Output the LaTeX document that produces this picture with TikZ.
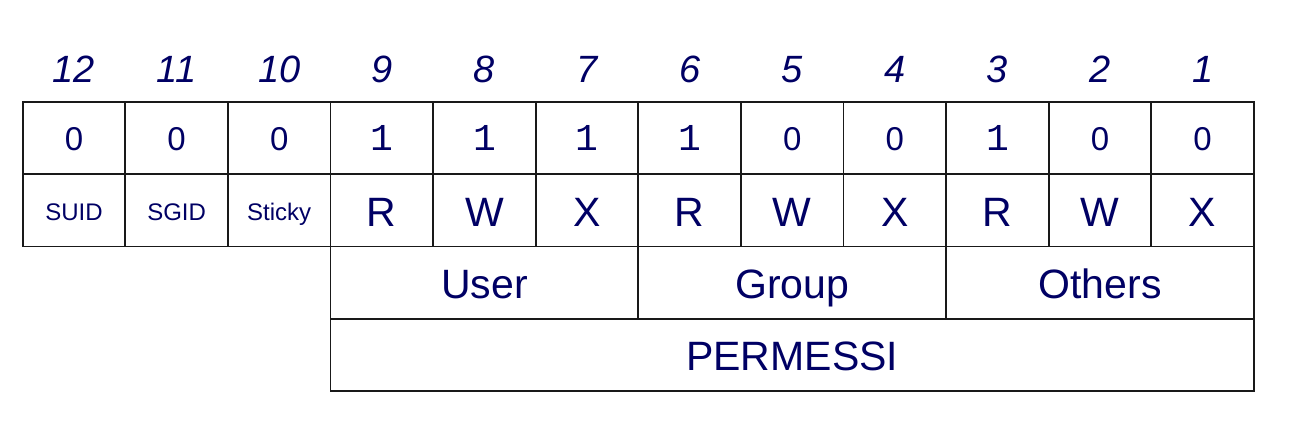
\documentclass[tikz,border=0pt]{standalone}
\usepackage{fontspec}
\setmainfont{Liberation Sans}
\newfontfamily\monofont{Liberation Mono}
\begin{document}
\begin{tikzpicture}[x=1pt,y=-1pt,
  line width=1.9pt,
  gridline/.style={draw=black!90},
  txt/.style={text=navy,inner sep=0pt,anchor=base},
  topnum/.style={txt,font=\fontsize{38}{40}\selectfont\itshape},
  bitval/.style={txt,font=\fontsize{33}{36}\selectfont},
  bitone/.style={txt,font=\fontsize{38}{40}\selectfont\monofont},
  smalllbl/.style={txt,font=\fontsize{24}{26}\selectfont},
  biglbl/.style={txt,font=\fontsize{41}{44}\selectfont}]
\definecolor{navy}{RGB}{0,0,100}
\useasboundingbox (0,0) rectangle (1296,439);
\def\L{22.7}\def\W{102.6}
\pgfmathsetmacro{\R}{\L+12*\W}
\pgfmathsetmacro{\Ux}{\L+3*\W}
\pgfmathsetmacro{\Gx}{\L+6*\W}
\pgfmathsetmacro{\Ox}{\L+9*\W}
\coordinate (tl) at (\L,102);
\coordinate (br) at (\R,246.5);
\draw[gridline] (tl) rectangle (br);
\draw[gridline] (\L,174.3) -- (\R,174.3);
\foreach \i in {1,...,11}{
  \pgfmathsetmacro{\xx}{\L+\i*\W}
  \draw[gridline] (\xx,102) -- (\xx,246.5);
}
\coordinate (ua) at (\Ux,246.5);
\coordinate (ub) at (\R,391.2);
\draw[gridline] (ua) rectangle (ub);
\draw[gridline] (\Ux,318.9) -- (\R,318.9);
\draw[gridline] (\Gx,246.5) -- (\Gx,318.9);
\draw[gridline] (\Ox,246.5) -- (\Ox,318.9);
\foreach \n/\v/\lab/\sz [count=\i from 0] in {12/0/SUID/s,11/0/SGID/s,10/0/Sticky/s,9/1/R/b,8/1/W/b,7/1/X/b,6/1/R/b,5/0/W/b,4/0/X/b,3/1/R/b,2/0/W/b,1/0/X/b}{
  \pgfmathsetmacro{\cx}{\L+(\i+0.5)*\W}
  \node[topnum] (n\n) at (\cx,82) {\n};
  \if\v 1
    \node[bitone] (v\n) at (\cx,150.5) {1};
  \else
    \node[bitval] (v\n) at (\cx,150.5) {0};
  \fi
  \if\sz s
    \node[smalllbl] (l\n) at (\cx,220) {\lab};
  \else
    \node[biglbl] (l\n) at (\cx,226) {\lab};
  \fi
}
\pgfmathsetmacro{\uc}{\L+4.5*\W}
\pgfmathsetmacro{\gc}{\L+7.5*\W}
\pgfmathsetmacro{\oc}{\L+10.5*\W}
\pgfmathsetmacro{\pc}{\L+7.5*\W}
\node[biglbl] (user) at (\uc,298.5) {User};
\node[biglbl] (group) at (\gc,298.5) {Group};
\node[biglbl] (others) at (\oc,298.5) {Others};
\node[biglbl] (perm) at (\pc,370.5) {PERMESSI};
\end{tikzpicture}
\end{document}
